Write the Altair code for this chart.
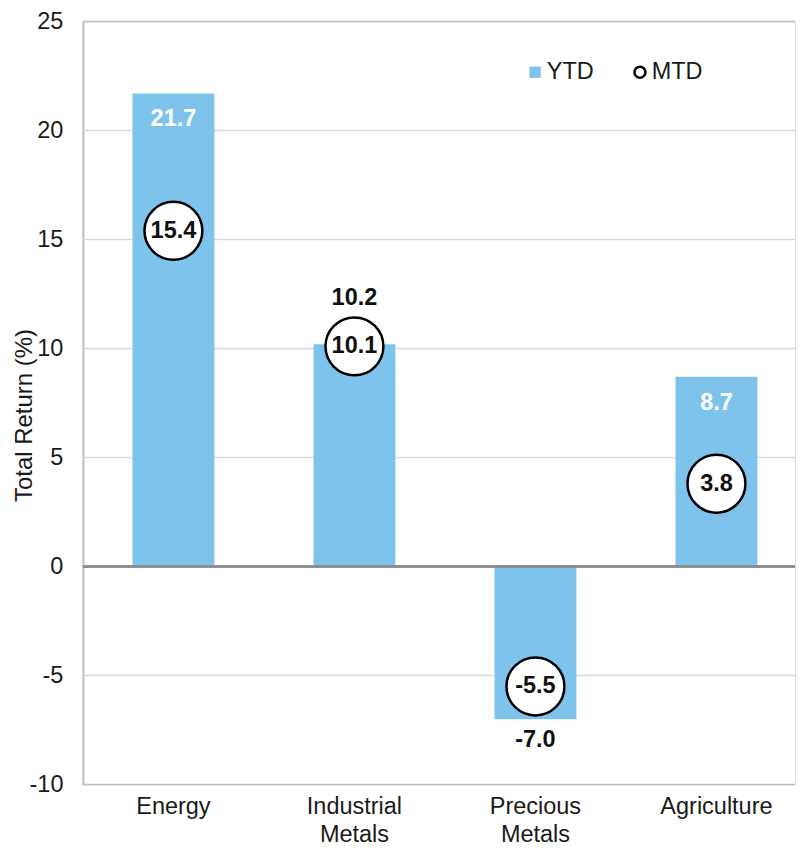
import altair as alt
import pandas as pd

categories = ["Energy", "Industrial Metals", "Precious Metals", "Agriculture"]
ytd = [21.7, 10.2, -7.0, 8.7]
mtd = [15.4, 10.1, -5.5, 3.8]
y_ticks = [-10, -5, 0, 5, 10, 15, 20, 25]

df = pd.DataFrame({"category": categories, "ytd": ytd, "mtd": mtd})
grid_df = pd.DataFrame({"v": y_ticks})

FONT = "Liberation Sans"
BLUE = "#7dc3eb"
FS = 23.5
TXT = "#1a1a1a"
SHIFT = 6

x_enc = alt.X(
    "category:N",
    sort=categories,
    scale=alt.Scale(paddingInner=0.066, paddingOuter=0),
    axis=alt.Axis(
        title=None,
        labelAngle=0,
        labelExpr="split(datum.label, ' ')",
        labelFontSize=FS,
        labelFont=FONT,
        labelColor=TXT,
        labelPadding=10,
        labelLineHeight=28,
        labelOffset=SHIFT,
        ticks=False,
        domain=False,
        grid=False,
    ),
)

y_axis = alt.Axis(
    values=y_ticks,
    labelExpr="'' + datum.value",
    title="Total Return (%)",
    titleFontSize=24,
    titleFont=FONT,
    titleFontWeight="normal",
    titleColor=TXT,
    titleX=-70,
    titleY=394,
    titleAngle=-90,
    titleBaseline="top",
    titleAlign="center",
    labelFontSize=FS,
    labelFont=FONT,
    labelColor=TXT,
    labelPadding=20,
    ticks=False,
    domainColor="#bfbfbf",
    domainWidth=2,
    grid=False,
)
y_scale = alt.Scale(domain=[-10, 25], nice=False, zero=False)

gridlines = alt.Chart(grid_df).mark_rule(strokeWidth=1.5).encode(
    y=alt.Y("v:Q", scale=y_scale, axis=y_axis),
    color=alt.condition("datum.v == 25 || datum.v == -10",
                        alt.value("#bfbfbf"), alt.value("#d9d9d9")),
)

base = alt.Chart(df).transform_calculate(
    s_ytd="'YTD'",
    s_mtd="'MTD'",
    ytd_lab="(datum.ytd < 0 ? '-' : '') + format(abs(datum.ytd), '.1f')",
    mtd_lab="(datum.mtd < 0 ? '-' : '') + format(abs(datum.mtd), '.1f')",
)

bars = base.mark_bar(size=82, xOffset=SHIFT).encode(
    x=x_enc,
    y=alt.Y("ytd:Q", scale=y_scale, axis=y_axis),
    color=alt.Color(
        "s_ytd:N",
        scale=alt.Scale(domain=["YTD"], range=[BLUE]),
        legend=alt.Legend(
            title=None, orient="none", legendX=441, legendY=39,
            symbolType="square", symbolSize=130, symbolStrokeWidth=0,
            labelFontSize=FS, labelFont=FONT, labelColor=TXT,
            labelOffset=0, padding=0,
        ),
    ),
)

zero = base.mark_rule(color="#8c8c8c", strokeWidth=2).encode(y=alt.datum(0))


def ytd_text(filt, color, dy):
    return base.transform_filter(filt).mark_text(
        color=color, fontWeight="bold", fontSize=FS, font=FONT, dy=dy,
        xOffset=SHIFT, baseline="middle"
    ).encode(x=x_enc, y=alt.Y("ytd:Q", scale=y_scale, axis=y_axis), text="ytd_lab:N")


inside = ytd_text("abs(datum.ytd - datum.mtd) >= 3", "white", 26)
above = ytd_text("abs(datum.ytd - datum.mtd) < 3 && datum.ytd >= 0", "#111111", -46)
below = ytd_text("abs(datum.ytd - datum.mtd) < 3 && datum.ytd < 0", "#111111", 21)

discs = base.mark_circle(color="white", size=3364, opacity=1, xOffset=SHIFT).encode(
    x=x_enc, y=alt.Y("mtd:Q", scale=y_scale, axis=y_axis)
)

rings = base.mark_point(
    shape="circle", filled=False, strokeWidth=2.5, size=3364, opacity=1, xOffset=SHIFT
).encode(
    x=x_enc,
    y=alt.Y("mtd:Q", scale=y_scale, axis=y_axis),
    color=alt.Color(
        "s_mtd:N",
        scale=alt.Scale(domain=["MTD"], range=["black"]),
        legend=alt.Legend(
            title=None, orient="none", legendX=546, legendY=39,
            symbolType="circle", symbolSize=121, symbolStrokeWidth=2.5,
            labelFontSize=FS, labelFont=FONT, labelColor=TXT,
            labelOffset=0, padding=0,
        ),
    ),
)

mtd_text = base.mark_text(
    color="#111111", fontWeight="bold", fontSize=FS, font=FONT, baseline="middle",
    xOffset=SHIFT
).encode(x=x_enc, y=alt.Y("mtd:Q", scale=y_scale, axis=y_axis), text="mtd_lab:N")

chart = alt.layer(
    gridlines, bars, zero, inside, above, below, discs, rings, mtd_text
).resolve_scale(
    color="independent"
).properties(
    width=713,
    height=764,
    padding={"left": 5, "top": 1, "right": 0, "bottom": 0},
).configure_view(stroke=None).configure(font=FONT)

chart.save("out.html", embed_options={"renderer": "svg", "actions": False})
